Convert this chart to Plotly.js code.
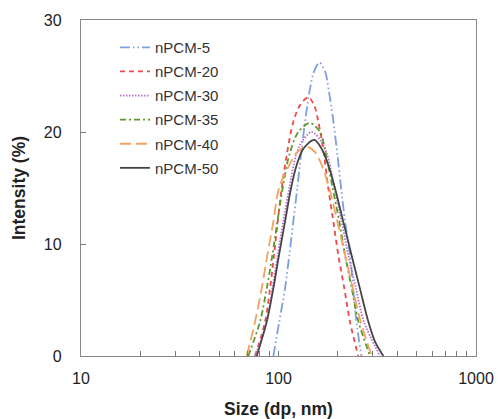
<!DOCTYPE html>
<html>
<head>
<meta charset="utf-8">
<script src="https://cdn.plot.ly/plotly-3.0.1.min.js"></script>
<style>
html,body{margin:0;padding:0;background:#fff;}
#chart{width:498px;height:419px;}
</style>
</head>
<body>
<div id="chart"></div>
<script>
// Series names
const seriesNames = ["nPCM-5", "nPCM-20", "nPCM-30", "nPCM-35", "nPCM-40", "nPCM-50"];

// Size (dp, nm) and intensity (%) values
const size5 = [94.2, 100.9, 107.9, 113.4, 118.8, 124.5, 130, 136.2, 144.5, 151.4, 161.2, 172.2, 179, 189.8, 198.8, 207.5, 217.4, 230.3, 240, 250, 263];
const int5  = [0, 3.07, 6.04, 9.0, 12.0, 15.0, 17.95, 20.9, 23.9, 25.4, 26.2, 25.4, 23.9, 20.9, 17.95, 15.0, 12.0, 9.0, 5.6, 2.6, 0];

const size20 = [76.1, 85.5, 90.6, 94.9, 99.1, 103.8, 110.1, 118.8, 128.5, 141.6, 151.4, 159.2, 170, 178.6, 189.6, 200.9, 215.4, 230, 253.3];
const int20  = [0, 3.07, 6.04, 9.0, 12.0, 15.0, 17.95, 20.9, 22.4, 23.1, 22.4, 20.9, 17.95, 15.0, 12.0, 9.0, 6.04, 3.07, 0];

const size30 = [76.1, 87.2, 93.1, 99.1, 105.7, 113.4, 122.7, 130.9, 147.2, 165.5, 176.6, 192.3, 208.8, 225.7, 246.8, 270.8, 326.4];
const int30  = [0, 3.07, 6.04, 9.0, 12.0, 15.0, 17.95, 19.1, 20.0, 19.1, 17.95, 15.0, 12.0, 9.0, 6.04, 3.07, 0];

const size35 = [70.3, 80.6, 87.2, 93.1, 98.7, 105, 113.4, 126, 144.5, 162.3, 174, 188, 203.2, 217.4, 234.9, 254, 291];
const int35  = [0, 3.07, 6.04, 9.0, 12.0, 15.0, 17.95, 20.0, 20.8, 20.0, 17.95, 15.0, 12.0, 9.0, 6.04, 3.07, 0];

const size40 = [69, 76.1, 82.2, 87.8, 94.2, 100.6, 113.4, 124.4, 139, 153.1, 165.5, 180.6, 198.6, 217.4, 237.7, 260.6, 296.5];
const int40  = [0, 3.07, 6.04, 9.0, 12.0, 15.0, 17.05, 18.2, 18.7, 18.2, 17.05, 15.0, 12.0, 9.0, 6.04, 3.07, 0];

const size50 = [77.6, 87.2, 94.2, 100.6, 107.9, 115.8, 123.6, 133.6, 151.8, 165.3, 178.6, 193.1, 212.8, 234.4, 258.3, 285, 308.2, 339.6];
const int50  = [0, 3.07, 6.04, 9.0, 12.0, 15.0, 17.05, 18.5, 19.3, 18.5, 17.05, 15.0, 12.0, 9.0, 6.04, 3.07, 1.28, 0];

// Axis ticks
const xTickVals = [10, 100, 1000];
const xTickText = ["10", "100", "1000"];
const xMinorVals = [20, 30, 40, 50, 60, 70, 80, 90, 200, 300, 400, 500, 600, 700, 800, 900];
const yTickVals = [0, 10, 20, 30];

const xs = [size5, size20, size30, size35, size40, size50];
const ys = [int5, int20, int30, int35, int40, int50];
const colors = ["#7f9fdf", "#f04848", "#b56cc8", "#5a9a2a", "#f5a25e", "#454545"];
const dashes = ["10px,3px,1.5px,3px,1.5px,3px", "5px,4px", "1.5px,1.5px", "6px,3px,2px,3px", "11px,5px", "solid"];

const traces = seriesNames.map((n, i) => ({
  x: xs[i], y: ys[i], name: n, type: "scatter", mode: "lines",
  legendgroup: "g" + i,
  line: {color: colors[i], width: 1.8, dash: dashes[i], shape: "spline", smoothing: 0.9},
  hoverinfo: "skip"
}));

const layout = {
  width: 498, height: 419,
  margin: {l: 81, r: 22, t: 20, b: 63, pad: 0},
  paper_bgcolor: "#fff", plot_bgcolor: "#fff",
  font: {family: "Liberation Sans, Arial, sans-serif", color: "#222"},
  showlegend: true,
  legend: {x: 0.086, y: 0.967, xanchor: "left", yanchor: "top", bgcolor: "rgba(0,0,0,0)",
           font: {size: 15, color: "#333"}, tracegroupgap: 1.6},
  xaxis: {
    type: "log", range: [1, 3],
    tickmode: "array", tickvals: xTickVals, ticktext: xTickText,
    ticks: "inside", ticklen: 5, tickcolor: "#777", tickwidth: 1,
    minor: {tickmode: "array", tickvals: xMinorVals, ticks: "inside", ticklen: 5, tickcolor: "#777", showgrid: false},
    showline: true, linecolor: "#888", linewidth: 1.2, mirror: true,
    showgrid: false, zeroline: false,
    tickfont: {size: 16, color: "#222"}, ticklabelstandoff: 8,
    title: {text: "<b>Size (dp, nm)</b>", font: {size: 17.5, color: "#222"}, standoff: 20}
  },
  yaxis: {
    range: [0, 30], tickmode: "array", tickvals: yTickVals,
    ticks: "inside", ticklen: 5, tickcolor: "#777", tickwidth: 1,
    showline: true, linecolor: "#888", linewidth: 1.2, mirror: true,
    showgrid: false, zeroline: false,
    tickfont: {size: 16, color: "#222"}, ticklabelstandoff: 15,
    title: {text: "<b>Intensity (%)</b>", font: {size: 17.5, color: "#222"}, standoff: 13}
  }
};

Plotly.newPlot("chart", traces, layout, {displayModeBar: false, staticPlot: true});
</script>
</body>
</html>
